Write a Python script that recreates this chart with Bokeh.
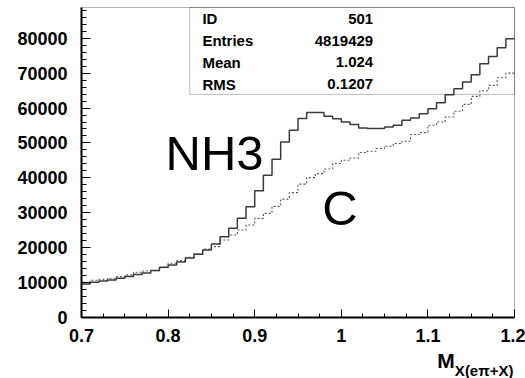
import numpy as np
from bokeh.plotting import figure
from bokeh.models import Label, BoxAnnotation, Range1d, FixedTicker, NumeralTickFormatter
from bokeh.embed import file_html
from bokeh.resources import INLINE

# ---- data ----
x_lo, x_hi, bin_w = 0.70, 1.20, 0.01
nh3_counts = [9630, 10110, 10490, 10770, 11260, 11710, 12290, 12770, 13430, 14400,
              15060, 15910, 17060, 18110, 19340, 21060, 23140, 25540, 28400, 31710,
              36290, 40770, 45340, 50290, 53630, 56970, 58690, 58690, 57630, 56910,
              56000, 55260, 54290, 54110, 54110, 54570, 55060, 56490, 57140, 58400,
              59830, 61540, 63830, 65540, 67430, 69540, 72690, 74770, 77260, 79830]
c_counts = [10110, 10690, 10970, 11260, 11710, 12200, 12970, 13340, 13430, 14290,
            15540, 16290, 17260, 18200, 19630, 20290, 22200, 23630, 25060, 26490,
            28400, 29830, 31830, 33910, 35770, 38200, 40060, 41200, 42540, 44110,
            45060, 45710, 47260, 47630, 48400, 49060, 49830, 50490, 52400, 52970,
            55060, 56000, 57430, 59060, 61060, 63340, 64970, 66490, 68690, 70000]
x_ticks = [0.7, 0.8, 0.9, 1.0, 1.1, 1.2]
x_tick_labels = ["0.7", "0.8", "0.9", "1", "1.1", "1.2"]
y_ticks = [0, 10000, 20000, 30000, 40000, 50000, 60000, 70000, 80000]
y_max = 88800
stats_names = ["ID", "Entries", "Mean", "RMS"]
stats_values = ["501", "4819429", "1.024", "0.1207"]

FONT = "Liberation Sans"

edges = np.round(x_lo + bin_w * np.arange(len(nh3_counts) + 1), 4)

# The frame covers the whole canvas; both axes sit at fixed locations inside it,
# so that tick labels and the axis title are never clipped.
W, H = 525, 378
left_px, right_px = 81, 514
top_px, zero_px = 7, 317
x_per_px = (x_hi - x_lo) / (right_px - left_px)
y_per_px = y_max / (zero_px - top_px)
x_start = x_lo - left_px * x_per_px
x_end = x_hi + (W - right_px) * x_per_px
y_start = -(H - zero_px) * y_per_px
y_end = y_max + top_px * y_per_px

p = figure(width=W, height=H, output_backend="svg", toolbar_location=None,
           x_range=Range1d(x_start, x_end), y_range=Range1d(y_start, y_end),
           min_border_left=0, min_border_right=0, min_border_top=0, min_border_bottom=0)
p.background_fill_color = "white"
p.border_fill_color = "white"
p.outline_line_color = None
p.xgrid.visible = False
p.ygrid.visible = False

# histograms
p.step(x=edges, y=list(c_counts) + [c_counts[-1]], mode="after",
       line_color="#555555", line_width=1.1, line_dash="2 2")
p.step(x=edges, y=list(nh3_counts) + [nh3_counts[-1]], mode="after",
       line_color="#3a3a3a", line_width=1.5)

# frame box
p.add_layout(BoxAnnotation(left=x_lo, right=x_hi, bottom=0, top=y_max,
                           fill_alpha=0, line_color="black", line_width=1.2))

# axes
x_minor = list(np.round(np.arange(x_lo, x_hi + 1e-9, 0.025), 4))
p.xaxis.ticker = FixedTicker(ticks=x_ticks, minor_ticks=x_minor)
p.xaxis.major_label_overrides = {t: l for t, l in zip(x_ticks, x_tick_labels)}
p.xaxis.fixed_location = 0
p.xaxis.bounds = (x_lo, x_hi)
y_minor = list(np.arange(0, y_max, 2000))
p.yaxis.ticker = FixedTicker(ticks=y_ticks, minor_ticks=y_minor)
p.yaxis.formatter = NumeralTickFormatter(format="0")
p.yaxis.fixed_location = x_lo
p.yaxis.bounds = (0, y_max)

for ax in (p.xaxis[0], p.yaxis[0]):
    ax.axis_line_color = "black"
    ax.axis_line_width = 2
    ax.major_tick_line_color = "black"
    ax.minor_tick_line_color = "black"
    ax.major_tick_out = 0
    ax.minor_tick_out = 0
    ax.major_label_text_font = FONT
    ax.major_label_text_font_style = "bold"
    ax.major_label_text_font_size = "18px"
    ax.major_label_text_color = "black"

p.yaxis.major_tick_in = 9
p.yaxis.minor_tick_in = 5
p.yaxis.major_label_standoff = 14
p.xaxis.major_tick_in = 8
p.xaxis.minor_tick_in = 4
p.xaxis.major_label_standoff = 11

# stats box
box_left = 0.825
box_bottom = 63910
p.add_layout(BoxAnnotation(left=box_left, right=x_hi, bottom=box_bottom, top=y_max,
                           fill_alpha=0, line_color="#222222", line_width=1))
row_y = [85630, 79340, 73060, 66770]
for name, val, yy in zip(stats_names, stats_values, row_y):
    p.add_layout(Label(x=0.8396, y=yy, text=name, text_font=FONT, text_font_style="bold",
                       text_font_size="15px", text_baseline="middle", text_align="left",
                       text_color="black"))
    p.add_layout(Label(x=1.0368, y=yy, text=val, text_font=FONT, text_font_style="bold",
                       text_font_size="15px", text_baseline="middle", text_align="right",
                       text_color="black"))

# series labels
p.add_layout(Label(x=0.797, y=47140, text="NH3", text_font=FONT, text_font_size="49px",
                   text_baseline="alphabetic", text_align="left", text_color="black"))
p.add_layout(Label(x=0.978, y=31240, text="C", text_font=FONT, text_font_size="49px",
                   text_baseline="alphabetic", text_align="left", text_color="black"))

# axis title M_X(eπ+X)
p.add_layout(Label(x=1.1311, y=-12300, text="M", text_font=FONT, text_font_style="bold",
                   text_font_size="21px", text_baseline="middle", text_align="right",
                   text_color="black"))
p.add_layout(Label(x=1.1988, y=-15300, text="X(eπ+X)", text_font=FONT, text_font_style="bold",
                   text_font_size="15px", text_baseline="middle", text_align="right",
                   text_color="black"))

open("out.html", "w").write(file_html(p, INLINE))
